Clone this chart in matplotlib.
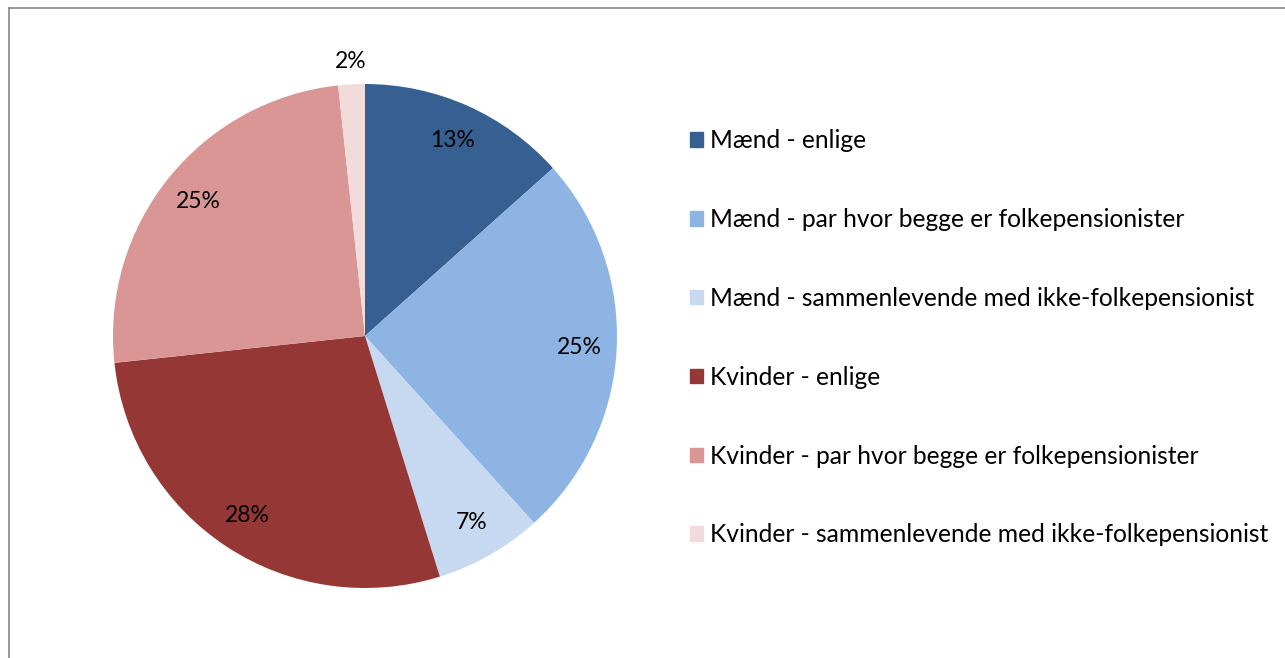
import numpy as np
import matplotlib
matplotlib.use("Agg")
import matplotlib.pyplot as plt
import matplotlib.patches as mpatches
from matplotlib.lines import Line2D

plt.rcParams["font.family"] = ["Lato", "DejaVu Sans"]

# data
categories = [
    "Mænd - enlige",
    "Mænd - par hvor begge er folkepensionister",
    "Mænd - sammenlevende med ikke-folkepensionist",
    "Kvinder - enlige",
    "Kvinder - par hvor begge er folkepensionister",
    "Kvinder - sammenlevende med ikke-folkepensionist",
]
shares = [13.4, 24.9, 6.9, 28.1, 25.0, 1.7]
pct_labels = ["13%", "25%", "7%", "28%", "25%", "2%"]
colors = ["#376092", "#8EB4E3", "#C6D9F1", "#953735", "#D99694", "#F2DCDB"]

W, H = 1285, 658
fig = plt.figure(figsize=(W / 100, H / 100), dpi=100)

# chart frame (top and left edge visible)
frame_col = "#868686"
fig.add_artist(Line2D([9 / W, 9 / W], [0, 1 - 8 / H], color=frame_col, lw=1.2))
fig.add_artist(Line2D([9 / W, 1], [1 - 8 / H, 1 - 8 / H], color=frame_col, lw=1.2))

# pie axes: centre (365, 336), radius 252 px
cx, cy, r = 365, 336, 252
ax = fig.add_axes([(cx - r) / W, (H - cy - r) / H, 2 * r / W, 2 * r / H])
wedges, _ = ax.pie(shares, colors=colors, startangle=90, counterclock=False,
                   radius=1.0, wedgeprops=dict(linewidth=0))
ax.set_xlim(-1, 1)
ax.set_ylim(-1, 1)
ax.set_aspect("equal")
ax.axis("off")

for w, lab, s in zip(wedges, pct_labels, shares):
    ang = np.deg2rad((w.theta1 + w.theta2) / 2)
    d = 1.09 if s < 3 else 0.85
    ax.text(d * np.cos(ang), d * np.sin(ang), lab, ha="center", va="center",
            fontsize=16.5, color="black")

# legend
handles = [mpatches.Patch(color=c, label=l) for c, l in zip(colors, categories)]
fig.legend(handles=handles, loc="upper left", bbox_to_anchor=(678 / W, 1 - 117 / H),
           frameon=False, fontsize=17.7, handlelength=0.52, handleheight=0.52,
           handletextpad=0.3, labelspacing=2.27, borderpad=0)

fig.savefig("out.png", dpi=100)
